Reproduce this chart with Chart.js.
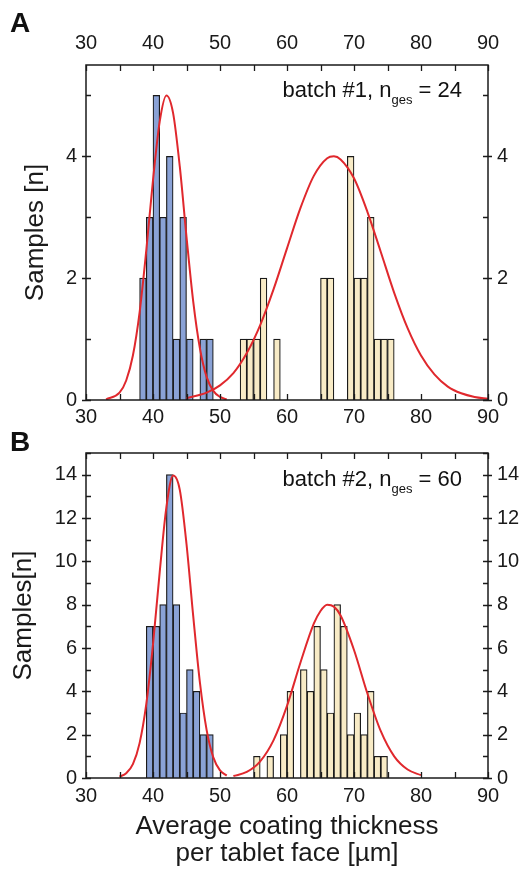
<!DOCTYPE html>
<html>
<head>
<meta charset="utf-8">
<title>Coating thickness histograms</title>
<script src="https://cdn.jsdelivr.net/npm/chart.js@4/dist/chart.umd.min.js"></script>
<style>
  html, body { margin: 0; padding: 0; background: #fff; }
  #page { position: relative; width: 527px; height: 871px; font-family: "Liberation Sans", Arial, sans-serif; color: #111; }
  canvas { position: absolute; left: 0; }
  #chartA { top: 0; }
  #chartB { top: 432px; }
  .letter { position: absolute; left: 10px; font-weight: bold; font-size: 28px; line-height: 1; }
  .note { position: absolute; right: 65px; font-size: 22px; line-height: 1; white-space: nowrap; }
  .note sub { font-size: 13px; vertical-align: -7px; }
</style>
</head>
<body>
<div id="page">
  <canvas id="chartA" width="527" height="432"></canvas>
  <canvas id="chartB" width="527" height="439"></canvas>
  <div class="letter" style="top: 9px;">A</div>
  <div class="letter" style="top: 428px;">B</div>
  <div class="note" style="top: 79px;">batch #1, n<sub>ges</sub> = 24</div>
  <div class="note" style="top: 468px;">batch #2, n<sub>ges</sub> = 60</div>
</div>
<script>
'use strict';

// bins are 1 µm wide, value = left edge of the bin
const batch1SmallBins = [38, 39, 40, 41, 42, 43, 44, 45, 47, 48];
const batch1SmallCounts = [2, 3, 5, 3, 4, 1, 3, 1, 1, 1];
const batch1LargeBins = [53, 54, 55, 56, 58, 65, 66, 69, 70, 71, 72, 73, 74, 75];
const batch1LargeCounts = [1, 1, 1, 2, 1, 2, 2, 4, 2, 2, 3, 1, 1, 1];

const batch2SmallBins = [39, 40, 41, 42, 43, 44, 45, 46, 47, 48];
const batch2SmallCounts = [7, 7, 8, 14, 8, 3, 5, 4, 2, 2];
const batch2LargeBins = [55, 57, 59, 60, 62, 63, 64, 65, 66, 67, 68, 69, 70, 71, 72, 73, 74];
const batch2LargeCounts = [1, 1, 2, 4, 5, 4, 7, 5, 3, 8, 7, 2, 3, 2, 4, 1, 1];

// fitted curves
const batch1SmallFitX = [33, 35, 36, 37, 38, 39, 40, 41, 42, 43, 44, 45, 46, 47, 48, 49, 50, 51];
const batch1SmallFitY = [0.01, 0.12, 0.32, 0.73, 1.44, 2.46, 3.61, 4.57, 5.0, 4.71, 3.83, 2.68, 1.62, 0.85, 0.38, 0.15, 0.05, 0.01];
const batch1LargeFitX = [45, 48, 50, 52, 54, 56, 58, 60, 62, 64, 66, 67, 68, 70, 72, 74, 76, 78, 80, 82, 84, 86, 88, 90];
const batch1LargeFitY = [0.03, 0.12, 0.24, 0.44, 0.77, 1.23, 1.82, 2.49, 3.15, 3.68, 3.97, 4.0, 3.95, 3.64, 3.09, 2.43, 1.76, 1.18, 0.73, 0.42, 0.22, 0.11, 0.05, 0.02];

const batch2SmallFitX = [35, 36, 37, 38, 39, 40, 41, 42, 43, 44, 45, 46, 47, 48, 49, 50, 51];
const batch2SmallFitY = [0.06, 0.22, 0.64, 1.61, 3.42, 6.17, 9.5, 12.5, 13.96, 13.3, 10.8, 7.48, 4.41, 2.22, 0.95, 0.35, 0.11];
const batch2LargeFitX = [52, 54, 56, 58, 60, 62, 64, 65, 66, 67, 68, 70, 72, 74, 76, 78, 80];
const batch2LargeFitY = [0.09, 0.28, 0.77, 1.75, 3.33, 5.32, 7.12, 7.71, 8.0, 7.91, 7.5, 5.91, 3.9, 2.16, 1.0, 0.39, 0.13];

const X_MIN = 30;
const X_MAX = 90;
const BLUE = '#8aa2d6';
const BEIGE = '#f8ebc6';
const RED = '#e0282d';
const INK = '#1a1a1a';

Chart.defaults.font.family = '"Liberation Sans", Arial, sans-serif';
Chart.defaults.color = INK;

function toBars(bins, counts) {
  return bins.map((edge, i) => ({ x: edge + 0.5, y: counts[i] }));
}

function toPoints(xs, ys) {
  return xs.map((x, i) => ({ x, y: ys[i] }));
}

function barSet(bins, counts, color) {
  return {
    type: 'bar',
    data: toBars(bins, counts),
    backgroundColor: color,
    borderColor: INK,
    borderWidth: 1.2,
    barPercentage: 1,
    categoryPercentage: 1,
    grouped: false,
    order: 2,
  };
}

function fitSet(xs, ys) {
  return {
    type: 'line',
    data: toPoints(xs, ys),
    borderColor: RED,
    borderWidth: 2,
    pointRadius: 0,
    cubicInterpolationMode: 'monotone',
    fill: false,
    order: 1,
  };
}

// frame and in/out tick marks drawn from the chart scales
const frameTicks = {
  id: 'frameTicks',
  afterDatasetsDraw(chart) {
    const { ctx, chartArea: a, scales } = chart;
    ctx.save();
    ctx.strokeStyle = INK;
    ctx.lineWidth = 1.5;
    ctx.strokeRect(a.left, a.top, a.right - a.left, a.bottom - a.top);

    ctx.lineWidth = 1.3;
    ctx.beginPath();
    for (let v = X_MIN; v <= X_MAX; v += 5) {
      const px = Math.round(scales.x.getPixelForValue(v)) + 0.5;
      ctx.moveTo(px, a.bottom);
      ctx.lineTo(px, a.bottom - 6);
      ctx.moveTo(px, a.top);
      ctx.lineTo(px, a.top + 6);
    }
    const yMax = scales.y.max;
    for (let v = 0; v <= yMax; v += 1) {
      const py = Math.round(scales.y.getPixelForValue(v)) + 0.5;
      const major = v % 2 === 0;
      ctx.moveTo(a.left - (major ? 4 : 0), py);
      ctx.lineTo(a.left + 5, py);
      ctx.moveTo(a.right + (major ? 4 : 0), py);
      ctx.lineTo(a.right - 5, py);
    }
    ctx.stroke();
    ctx.restore();
  },
};

function makePanel(canvasId, cfg) {
  const tickFont = { size: 20 };
  const titleFont = { size: 26 };
  const noGrid = { display: false, drawTicks: false };

  return new Chart(document.getElementById(canvasId), {
    type: 'bar',
    data: {
      datasets: [
        barSet(cfg.smallBins, cfg.smallCounts, BLUE),
        barSet(cfg.largeBins, cfg.largeCounts, BEIGE),
        fitSet(cfg.smallFitX, cfg.smallFitY),
        fitSet(cfg.largeFitX, cfg.largeFitY),
      ],
    },
    options: {
      responsive: false,
      animation: false,
      devicePixelRatio: 1,
      layout: { padding: 0 },
      plugins: {
        legend: { display: false },
        tooltip: { enabled: false },
      },
      scales: {
        x: {
          type: 'linear',
          position: 'bottom',
          min: X_MIN,
          max: X_MAX,
          offset: false,
          grid: noGrid,
          border: { display: false },
          ticks: { stepSize: 10, font: tickFont, padding: cfg.bottomPad, maxRotation: 0 },
          title: {
            display: !!cfg.xTitle,
            text: cfg.xTitle,
            font: { size: 26, lineHeight: 1.04 },
            padding: { top: 0, bottom: 4 },
          },
          afterFit: (s) => { s.height = cfg.bottomHeight; },
        },
        x2: {
          type: 'linear',
          position: 'top',
          min: X_MIN,
          max: X_MAX,
          offset: false,
          grid: noGrid,
          border: { display: false },
          ticks: { display: cfg.topLabels, stepSize: 10, font: tickFont, padding: 10, maxRotation: 0 },
          afterFit: (s) => { s.height = cfg.topHeight; },
        },
        y: {
          position: 'left',
          min: 0,
          max: cfg.yMax,
          grid: noGrid,
          border: { display: false },
          ticks: { stepSize: 2, includeBounds: false, font: tickFont, padding: 9 },
          title: {
            display: true,
            text: cfg.yTitle,
            font: titleFont,
            padding: { top: cfg.yTitlePad, bottom: 0 },
          },
          afterFit: (s) => { s.width = 86; },
        },
        y2: {
          position: 'right',
          min: 0,
          max: cfg.yMax,
          grid: noGrid,
          border: { display: false },
          ticks: { stepSize: 2, includeBounds: false, font: tickFont, padding: 9 },
          afterFit: (s) => { s.width = 39; },
        },
      },
    },
    plugins: [frameTicks],
  });
}

makePanel('chartA', {
  smallBins: batch1SmallBins,
  smallCounts: batch1SmallCounts,
  largeBins: batch1LargeBins,
  largeCounts: batch1LargeCounts,
  smallFitX: batch1SmallFitX,
  smallFitY: batch1SmallFitY,
  largeFitX: batch1LargeFitX,
  largeFitY: batch1LargeFitY,
  yMax: 5.5,
  yTitle: 'Samples [n]',
  yTitlePad: 20,
  topLabels: true,
  topHeight: 65,
  bottomHeight: 32,
  bottomPad: 5,
  xTitle: '',
});

makePanel('chartB', {
  smallBins: batch2SmallBins,
  smallCounts: batch2SmallCounts,
  largeBins: batch2LargeBins,
  largeCounts: batch2LargeCounts,
  smallFitX: batch2SmallFitX,
  smallFitY: batch2SmallFitY,
  largeFitX: batch2LargeFitX,
  largeFitY: batch2LargeFitY,
  yMax: 15,
  yTitle: 'Samples[n]',
  yTitlePad: 8,
  topLabels: false,
  topHeight: 11,
  bottomHeight: 93,
  bottomPad: 6,
  xTitle: ['Average coating thickness', 'per tablet face [µm]'],
});
</script>
</body>
</html>
